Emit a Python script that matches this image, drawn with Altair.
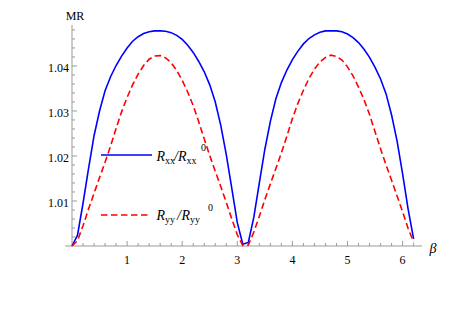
import altair as alt
import pandas as pd

# ---- data ----
BETA = [0.0, 0.1, 0.2, 0.3, 0.4, 0.5, 0.6, 0.7, 0.8, 0.9,
        1.0, 1.1, 1.2, 1.3, 1.4, 1.5, 1.6, 1.7, 1.8, 1.9,
        2.0, 2.1, 2.2, 2.3, 2.4, 2.5, 2.6, 2.7, 2.8, 2.9,
        3.0, 3.1, 3.2, 3.3, 3.4, 3.5, 3.6, 3.7, 3.8, 3.9,
        4.0, 4.1, 4.2, 4.3, 4.4, 4.5, 4.6, 4.7, 4.8, 4.9,
        5.0, 5.1, 5.2, 5.3, 5.4, 5.5, 5.6, 5.7, 5.8, 5.9,
        6.0, 6.1, 6.2]

RXX = [1.0000, 1.0024, 1.0095, 1.0172, 1.0245, 1.0300, 1.0345, 1.0376, 1.0401, 1.0422,
       1.0440, 1.0455, 1.0465, 1.0472, 1.0476, 1.0478, 1.0478, 1.0477, 1.0474, 1.0468,
       1.0459, 1.0446, 1.0430, 1.0410, 1.0387, 1.0358, 1.0320, 1.0268, 1.0203, 1.0128,
       1.0052, 1.0004, 1.0008, 1.0064, 1.0140, 1.0215, 1.0277, 1.0327, 1.0363, 1.0391,
       1.0414, 1.0433, 1.0449, 1.0461, 1.0469, 1.0475, 1.0478, 1.0478, 1.0478, 1.0476,
       1.0471, 1.0463, 1.0452, 1.0437, 1.0419, 1.0397, 1.0371, 1.0338, 1.0291, 1.0233,
       1.0160, 1.0082, 1.0016]

RYY = [1.0000, 1.0012, 1.0045, 1.0082, 1.0117, 1.0152, 1.0186, 1.0222, 1.0261, 1.0298,
       1.0330, 1.0358, 1.0382, 1.0401, 1.0415, 1.0422, 1.0423, 1.0418, 1.0407, 1.0390,
       1.0368, 1.0342, 1.0312, 1.0276, 1.0238, 1.0201, 1.0166, 1.0132, 1.0097, 1.0060,
       1.0025, 1.0001, 1.0002, 1.0031, 1.0066, 1.0103, 1.0138, 1.0172, 1.0207, 1.0244,
       1.0283, 1.0317, 1.0346, 1.0372, 1.0393, 1.0409, 1.0419, 1.0424, 1.0421, 1.0413,
       1.0398, 1.0378, 1.0353, 1.0325, 1.0292, 1.0254, 1.0216, 1.0180, 1.0146, 1.0111,
       1.0076, 1.0039, 1.0009]

X_MAJOR = [1, 2, 3, 4, 5, 6]
X_MINOR = [0.2, 0.4, 0.6, 0.8, 1.2, 1.4, 1.6, 1.8, 2.2, 2.4, 2.6, 2.8, 3.2, 3.4, 3.6,
           3.8, 4.2, 4.4, 4.6, 4.8, 5.2, 5.4, 5.6, 5.8, 6.2]
Y_MAJOR = [1.01, 1.02, 1.03, 1.04]
Y_MINOR = [1.002, 1.004, 1.006, 1.008, 1.012, 1.014, 1.016, 1.018, 1.022, 1.024,
           1.026, 1.028, 1.032, 1.034, 1.036, 1.038, 1.042, 1.044, 1.046, 1.048]

W, H = 350, 221
XDOM = [0, 6.352]
YDOM = [1.0, 1.0491]
AXIS_GRAY = "#9a9a9a"
SERIF = "'Liberation Serif', 'DejaVu Serif', serif"

df = pd.DataFrame({"beta": BETA, "rxx": RXX, "ryy": RYY})
xs = alt.Scale(domain=XDOM, nice=False, zero=False)
ys = alt.Scale(domain=YDOM, nice=False, zero=False)
one = pd.DataFrame({"k": [0]})

blue = alt.Chart(df).mark_line(color="#0000ff", strokeWidth=1.6).encode(
    x=alt.X("beta:Q", scale=xs, axis=None),
    y=alt.Y("rxx:Q", scale=ys, axis=None),
)
red = alt.Chart(df).mark_line(color="#ff0000", strokeWidth=1.6, strokeDash=[6.5, 3.5]).encode(
    x=alt.X("beta:Q", scale=xs, axis=None),
    y=alt.Y("ryy:Q", scale=ys, axis=None),
)

# axis lines
x_line = alt.Chart(one).mark_rule(color=AXIS_GRAY, strokeWidth=1).encode(
    x=alt.value(-7), x2=alt.value(W), y=alt.value(H))
y_line = alt.Chart(one).mark_rule(color=AXIS_GRAY, strokeWidth=1).encode(
    x=alt.value(0), y=alt.value(0), y2=alt.value(H))

# inward ticks
def xticks(vals, length):
    return alt.Chart(pd.DataFrame({"v": vals})).mark_rule(color=AXIS_GRAY, strokeWidth=1).encode(
        x=alt.X("v:Q", scale=xs, axis=None), y=alt.value(H), y2=alt.value(H - length))

def yticks(vals, length):
    return alt.Chart(pd.DataFrame({"v": vals})).mark_rule(color=AXIS_GRAY, strokeWidth=1).encode(
        y=alt.Y("v:Q", scale=ys, axis=None), x=alt.value(0), x2=alt.value(length))

# tick labels
x_labels = alt.Chart(pd.DataFrame({"v": X_MAJOR})).mark_text(
    font=SERIF, fontSize=12, color="black", align="center", baseline="middle").encode(
    x=alt.X("v:Q", scale=xs, axis=None), y=alt.value(H + 14),
    text=alt.Text("v:Q", format="d"))
y_labels = alt.Chart(pd.DataFrame({"v": Y_MAJOR})).mark_text(
    font=SERIF, fontSize=12, color="black", align="right", baseline="middle", dy=2.5).encode(
    y=alt.Y("v:Q", scale=ys, axis=None), x=alt.value(-3),
    text=alt.Text("v:Q", format=".2f"))

def txt(s, x, y, size, italic=False, align="left", baseline="alphabetic"):
    kw = dict(text=s, font=SERIF, fontSize=size, color="black", align=align, baseline=baseline)
    if italic:
        kw["fontStyle"] = "italic"
    return alt.Chart(one).mark_text(**kw).encode(x=alt.value(x), y=alt.value(y))

# legend samples
leg_blue = alt.Chart(one).mark_rule(color="#0000ff", strokeWidth=1.6).encode(
    x=alt.value(29), x2=alt.value(80), y=alt.value(130))
leg_red = alt.Chart(one).mark_rule(color="#ff0000", strokeWidth=1.6, strokeDash=[6.5, 3.5]).encode(
    x=alt.value(29), x2=alt.value(78), y=alt.value(190))

texts = [
    txt("MR", 3, -9.5, 12, align="center", baseline="middle"),
    txt("β", 361, 224, 14, italic=True, align="center", baseline="middle"),
    # R_xx / R_xx ^0
    txt("R", 84.5, 136, 14, italic=True),
    txt("xx", 93, 139, 10),
    txt("/", 102, 136, 14, italic=True),
    txt("R", 106, 136, 14, italic=True),
    txt("xx", 114.5, 139, 10),
    txt("0", 129, 126, 10),
    # R_yy / R_yy ^0
    txt("R", 84.5, 195, 14, italic=True),
    txt("yy", 93, 198, 10),
    txt("/", 105, 195, 14, italic=True),
    txt("R", 109.5, 195, 14, italic=True),
    txt("yy", 118, 198, 10),
    txt("0", 136, 186, 10),
]

chart = alt.layer(
    x_line, y_line,
    xticks(X_MAJOR, 5), xticks(X_MINOR, 3), yticks(Y_MAJOR, 5), yticks(Y_MINOR, 3),
    x_labels, y_labels,
    blue, red,
    leg_blue, leg_red, *texts,
).properties(
    width=W, height=H,
    autosize=alt.AutoSizeParams(type="none"),
    padding={"left": 64, "top": 17, "right": 25, "bottom": 50},
).configure_view(strokeWidth=0)

chart.save("out.html", embed_options={"renderer": "svg", "actions": False})
